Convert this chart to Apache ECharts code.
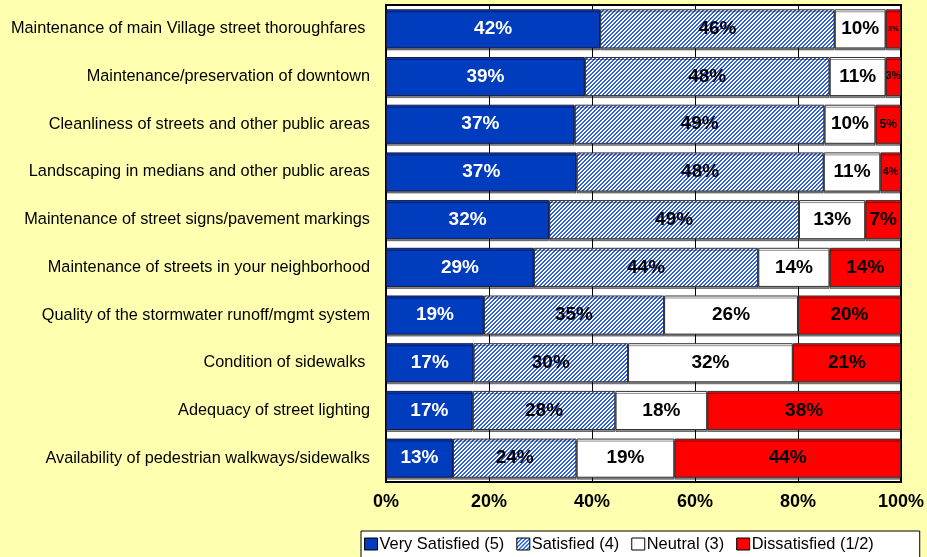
<!DOCTYPE html>
<html><head><meta charset="utf-8">
<script src="https://cdn.jsdelivr.net/npm/echarts@6/dist/echarts.min.js"></script>
<style>html,body{margin:0;padding:0;background:#FFFFB0;}#c{width:927px;height:557px;}</style>
</head><body><div id="c"></div>
<script>
const categories = [
  "Maintenance of main Village street thoroughfares ",
  "Maintenance/preservation of downtown",
  "Cleanliness of streets and other public areas",
  "Landscaping in medians and other public areas",
  "Maintenance of street signs/pavement markings",
  "Maintenance of streets in your neighborhood",
  "Quality of the stormwater runoff/mgmt system",
  "Condition of sidewalks ",
  "Adequacy of street lighting",
  "Availability of pedestrian walkways/sidewalks"
];
const verySatisfied = [42, 39, 37, 37, 32, 29, 19, 17, 17, 13];
const satisfied     = [46, 48, 49, 48, 49, 44, 35, 30, 28, 24];
const neutral       = [10, 11, 10, 11, 13, 14, 26, 32, 18, 19];
const dissatisfied  = [3, 3, 5, 4, 7, 14, 20, 21, 38, 44];
const seriesNames = ["Very Satisfied (5)", "Satisfied (4)", "Neutral (3)", "Dissatisfied (1/2)"];
const xTicks = ["0%", "20%", "40%", "60%", "80%", "100%"];
const redLabelSizes = [7, 10, 12, 11, 19, 19, 19, 19, 19, 19];

// hatched pattern
const pc = document.createElement('canvas');
pc.width = 8; pc.height = 8;
const pctx = pc.getContext('2d');
pctx.fillStyle = '#ffffff'; pctx.fillRect(0, 0, 8, 8);
pctx.fillStyle = '#2f62dc';
for (let x = 0; x < 8; x++) for (let y = 0; y < 8; y++) if ((x + y) % 4 < 2) pctx.fillRect(x, y, 1, 1);
const hatch = { image: pc, repeat: 'repeat' };

const all = [verySatisfied, satisfied, neutral, dissatisfied];
const sums = categories.map((_, i) => all.reduce((s, a) => s + a[i], 0));

function mk(arr, idx, color, labelColor, border) {
  return {
    name: seriesNames[idx], type: 'bar', stack: 'a', barWidth: '82%',
    itemStyle: { color: color, borderColor: border, borderWidth: 1, shadowColor: 'rgba(0,0,0,0.45)', shadowOffsetY: 2, shadowBlur: 0 },
    label: {
      show: true, position: 'inside', color: labelColor,
      fontFamily: 'Liberation Sans, Arial', fontWeight: 'bold', fontSize: 19,
      formatter: p => arr[p.dataIndex] + '%'
    },
    data: arr.map((v, i) => {
      const d = { value: v / sums[i] * 100 };
      if (idx === 3) d.label = { fontSize: redLabelSizes[i] };
      return d;
    })
  };
}

const chart = echarts.init(document.getElementById('c'));
chart.setOption({
  backgroundColor: '#FFFFB0',
  animation: false,
  grid: { left: 386, right: 26, top: 5, bottom: 75, show: true, backgroundColor: '#ffffff', borderColor: '#000', borderWidth: 2 },
  xAxis: {
    type: 'value', min: 0, max: 100, interval: 20,
    axisLabel: { formatter: v => xTicks[v / 20], fontFamily: 'Liberation Sans, Arial', fontWeight: 'bold', fontSize: 18, color: '#000', margin: 11 },
    axisLine: { show: true, lineStyle: { color: '#000', width: 2 } },
    axisTick: { show: false },
    splitLine: { show: true, lineStyle: { color: '#000', width: 1 } }
  },
  yAxis: {
    type: 'category', data: categories, inverse: true,
    axisLabel: { fontFamily: 'Liberation Sans, Arial', fontSize: 16.3, color: '#000', margin: 16 },
    axisLine: { show: true, lineStyle: { color: '#000', width: 2 } },
    axisTick: { show: false }
  },
  legend: {
    left: 361, top: 531, width: 700,
    backgroundColor: '#ffffff', borderColor: '#000', borderWidth: 1, borderRadius: 0,
    padding: [5, 46, 6, 3], itemGap: 12, itemWidth: 13, itemHeight: 12,
    icon: 'rect',
    textStyle: { fontFamily: 'Liberation Sans, Arial', fontSize: 16.4, color: '#000', padding: [0, 0, 0, -3] },
    itemStyle: { borderColor: '#000', borderWidth: 1 },
    data: seriesNames
  },
  series: [
    mk(verySatisfied, 0, '#003CBE', '#ffffff', '#1a1a40'),
    mk(satisfied, 1, hatch, '#000000', '#333333'),
    mk(neutral, 2, '#ffffff', '#000000', '#333333'),
    mk(dissatisfied, 3, '#ff0000', '#000000', '#333333')
  ]
});
</script></body></html>
